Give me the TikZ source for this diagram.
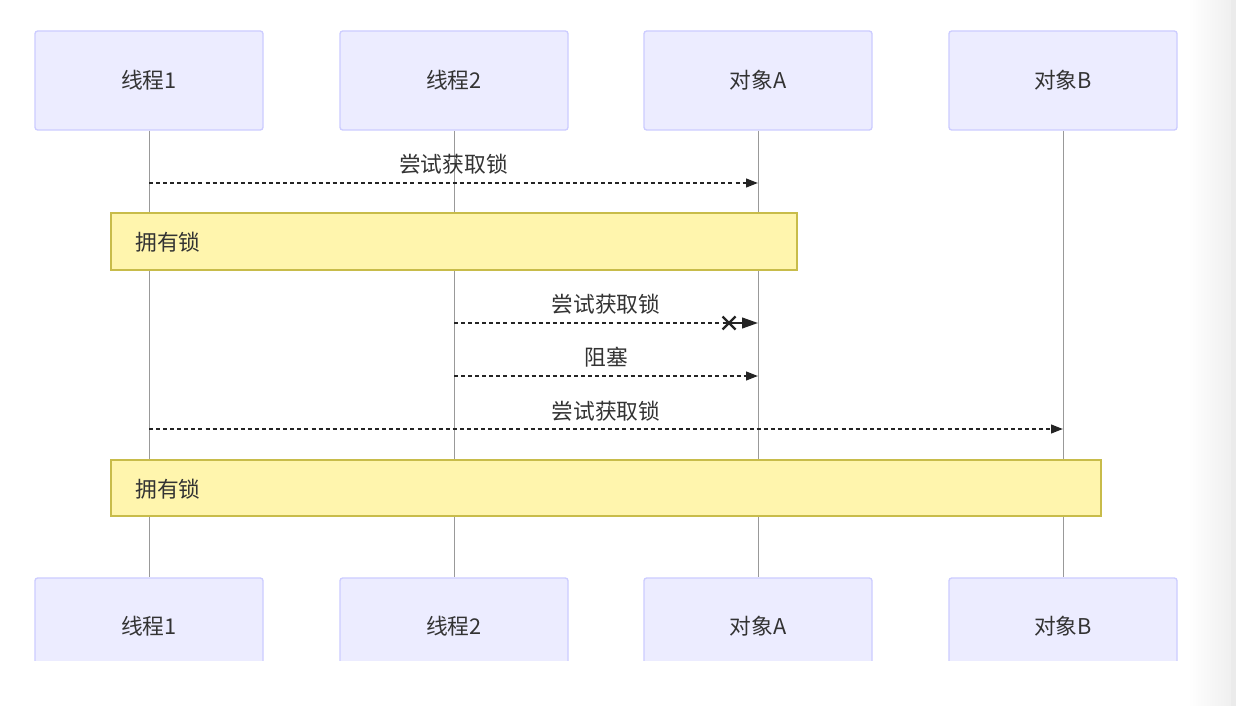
\documentclass[tikz,border=0pt]{standalone}
\usepackage{fontspec}
\setmainfont{Noto Sans CJK SC}
\usetikzlibrary{arrows.meta,calc}
\definecolor{actfill}{HTML}{ECECFF}
\definecolor{actdraw}{HTML}{CCCCFF}
\definecolor{notefill}{HTML}{FFF5AD}
\definecolor{notedraw}{HTML}{C8BC4A}
\definecolor{lifec}{HTML}{999999}
\definecolor{txt}{HTML}{333333}
\tikzset{
  lblfont/.style={font=\fontsize{16.3}{19}\selectfont},
  actor/.style={draw=actdraw, fill=actfill, line width=1pt, rounded corners=2pt,
    minimum width=171pt, minimum height=74.25pt, inner sep=0pt, text=txt, lblfont},
  notebox/.style={draw=notedraw, fill=notefill, line width=1pt, inner sep=0pt},
  notetxt/.style={text=txt, lblfont, anchor=west, inner sep=0pt},
  life/.style={draw=lifec, line width=0.6pt},
  msg/.style={draw=txt!70!black, line width=1.6pt, dash pattern=on 3pt off 2.3pt,
    -{Triangle[length=9pt,width=6.5pt]}},
  msglbl/.style={text=txt, lblfont, inner sep=0pt},
}
\begin{document}
\begin{tikzpicture}[x=0.75pt,y=-0.75pt]
\useasboundingbox (0,0) rectangle (1236,706);
\fill[white] (0,0) rectangle (1236,706);
\shade[left color=white, right color=black!6] (1188,0) rectangle (1231,706);
\fill[black!8] (1231,0) rectangle (1236,706);
% actors top
\node[actor] (t1) at (149,80.5) {线程1};
\node[actor] (t2) at (454,80.5) {线程2};
\node[actor] (oa) at (758,80.5) {对象A};
\node[actor] (ob) at (1063,80.5) {对象B};
% actors bottom (clipped)
\begin{scope}
\clip (0,0) rectangle (1236,660);
\node[actor] (b1) at (149,627.5) {};
\node[actor] (b2) at (454,627.5) {};
\node[actor] (ba) at (758,627.5) {};
\node[actor] (bb) at (1063,627.5) {};
\end{scope}
\node[text=txt, lblfont] (b1t) at (149,626) {线程1};
\node[text=txt, lblfont] (b2t) at (454,626) {线程2};
\node[text=txt, lblfont] (bat) at (758,626) {对象A};
\node[text=txt, lblfont] (bbt) at (1063,626) {对象B};
% lifelines
\draw[life] (t1.south) -- (b1.north);
\draw[life] (t2.south) -- (b2.north);
\draw[life] (oa.south) -- (ba.north);
\draw[life] (ob.south) -- (bb.north);
% message end points on lifelines
\coordinate (m1s) at (149,183);
\coordinate (m1e) at (758,183);
\coordinate (m2s) at (454,323);
\coordinate (m2x) at (729,323);
\coordinate (m2e) at (758,323);
\coordinate (m3s) at (454,376);
\coordinate (m3e) at (758,376);
\coordinate (m4s) at (149,429);
\coordinate (m4e) at (1063,429);
% message 1
\draw[msg] (m1s) -- (m1e);
\node[msglbl] (l1) at (453.5,164) {尝试获取锁};
% note 1
\draw[notebox] (111,213) rectangle (797,270);
\node[notetxt] (n1) at (135,242) {拥有锁};
% message 2 (cross)
\draw[msg, -] (m2s) -- (m2x);
\draw[msg, dash pattern=, -{Triangle[length=12pt,width=8pt]}] (m2x) -- (m2e);
\draw[txt!70!black, line width=1.6pt] ($(m2x)+(-6.5,-6.5)$) -- ($(m2x)+(6.5,6.5)$) ($(m2x)+(-6.5,6.5)$) -- ($(m2x)+(6.5,-6.5)$);
\node[msglbl] (l2) at (606,304) {尝试获取锁};
% message 3
\draw[msg] (m3s) -- (m3e);
\node[msglbl] (l3) at (606,357) {阻塞};
% message 4
\draw[msg] (m4s) -- (m4e);
\node[msglbl] (l4) at (606,411) {尝试获取锁};
% note 2
\draw[notebox] (111,460) rectangle (1101,516);
\node[notetxt] (n2) at (135,489) {拥有锁};
\end{tikzpicture}
\end{document}
